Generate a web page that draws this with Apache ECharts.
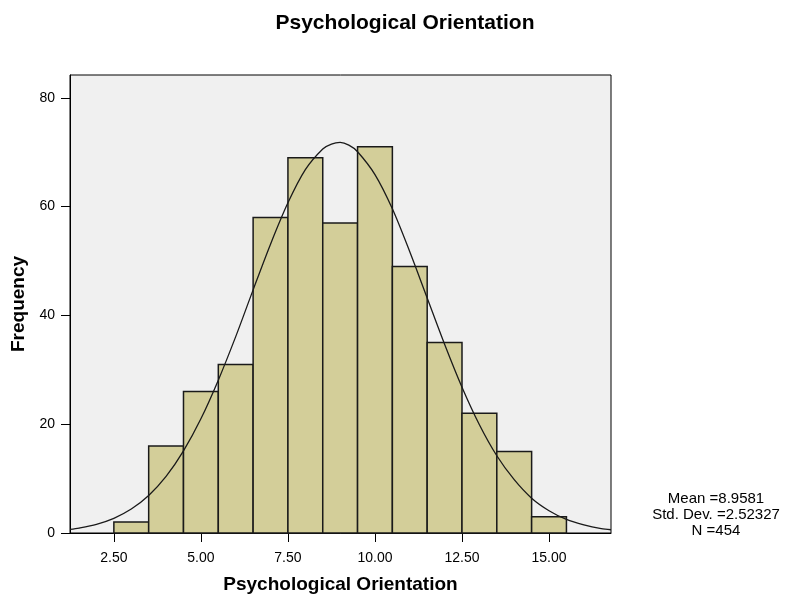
<!DOCTYPE html>
<html>
<head>
<meta charset="utf-8">
<script src="https://cdn.jsdelivr.net/npm/echarts@6/dist/echarts.min.js"></script>
<style>
  html, body { margin: 0; padding: 0; background: #fff; }
  #chart { width: 787px; height: 600px; }
</style>
</head>
<body>
<div id="chart"></div>
<script>
// histogram bins (width 1, starting at 2.5)
const binStarts = [2.5, 3.5, 4.5, 5.5, 6.5, 7.5, 8.5, 9.5, 10.5, 11.5, 12.5, 13.5, 14.5];
const counts = [2, 16, 26, 31, 58, 69, 57, 71, 49, 35, 22, 15, 3];
const binWidth = 1;

// normal curve
const curveX = [1.24, 1.5, 2, 2.5, 3, 3.5, 4, 4.5, 5, 5.5, 6, 6.5, 7, 7.5, 8, 8.5, 8.75, 9,
  9.25, 9.5, 10, 10.5, 11, 11.5, 12, 12.5, 13, 13.5, 14, 14.5, 15, 15.5, 16, 16.5, 16.78];
const curveY = [0.65, 0.9, 1.6, 2.7, 4.4, 6.9, 10.4, 15.1, 21.0, 28.1, 36.1, 44.7, 53.1,
  60.7, 66.8, 70.6, 71.5, 71.8, 71.3, 70.1, 65.9, 59.6, 51.7, 43.2, 34.7, 26.8, 19.9, 14.2, 9.8,
  6.4, 4.1, 2.5, 1.5, 0.8, 0.6];

const xTicks = [2.5, 5, 7.5, 10, 12.5, 15];
const yTicks = [0, 20, 40, 60, 80];
const statsLines = ['Mean =8.9581', 'Std. Dev. =2.52327', 'N =454'];

const font = '"Liberation Sans", Arial, sans-serif';

const chart = echarts.init(document.getElementById('chart'));

chart.setOption({
  animation: false,
  title: {
    text: 'Psychological Orientation',
    left: 400, top: 8, textAlign: 'center',
    textStyle: { fontFamily: font, fontSize: 21, fontWeight: 'bold', color: '#000' }
  },
  grid: {
    left: 70, right: 176, top: 75, bottom: 67,
    show: true, backgroundColor: '#f0f0f0', borderColor: '#000', borderWidth: 1
  },
  xAxis: {
    type: 'value', min: 1.24, max: 16.78,
    name: 'Psychological Orientation', nameLocation: 'middle', nameGap: 42,
    nameTextStyle: { fontFamily: font, fontSize: 19, fontWeight: 'bold', color: '#000' },
    axisLine: { show: true, lineStyle: { color: '#000', width: 1 } },
    axisTick: { show: true, length: 9, customValues: xTicks, lineStyle: { color: '#000' } },
    axisLabel: {
      customValues: xTicks, margin: 18,
      fontFamily: font, fontSize: 14, color: '#000',
      formatter: v => v.toFixed(2)
    },
    splitLine: { show: false }
  },
  yAxis: {
    type: 'value', min: 0, max: 84.2,
    name: 'Frequency', nameLocation: 'middle', nameGap: 42, nameRotate: 90,
    nameTextStyle: { fontFamily: font, fontSize: 19, fontWeight: 'bold', color: '#000' },
    axisLine: { show: true, lineStyle: { color: '#000', width: 1 } },
    axisTick: { show: true, length: 9, customValues: yTicks, lineStyle: { color: '#000' } },
    axisLabel: {
      customValues: yTicks, margin: 15,
      fontFamily: font, fontSize: 14, color: '#000'
    },
    splitLine: { show: false }
  },
  series: [
    {
      type: 'custom',
      data: binStarts.map((s, i) => [s, s + binWidth, counts[i]]),
      encode: { x: [0, 1], y: 2 },
      renderItem: function (params, api) {
        const p0 = api.coord([api.value(0), api.value(2)]);
        const p1 = api.coord([api.value(1), 0]);
        return {
          type: 'rect',
          shape: { x: p0[0], y: p0[1], width: p1[0] - p0[0], height: p1[1] - p0[1] },
          style: { fill: '#d3ce99', stroke: '#1a1a1a', lineWidth: 1.5 }
        };
      },
      z: 2
    },
    {
      type: 'line',
      data: curveX.map((x, i) => [x, curveY[i]]),
      smooth: 0.3,
      showSymbol: false,
      lineStyle: { color: '#1a1a1a', width: 1.3 },
      z: 3
    }
  ],
  graphic: statsLines.map((t, i) => ({
    type: 'text',
    x: 716, y: 491 + i * 16,
    style: {
      text: t, textAlign: 'center',
      font: '15px "Liberation Sans", Arial, sans-serif', fill: '#000'
    }
  }))
});
</script>
</body>
</html>
